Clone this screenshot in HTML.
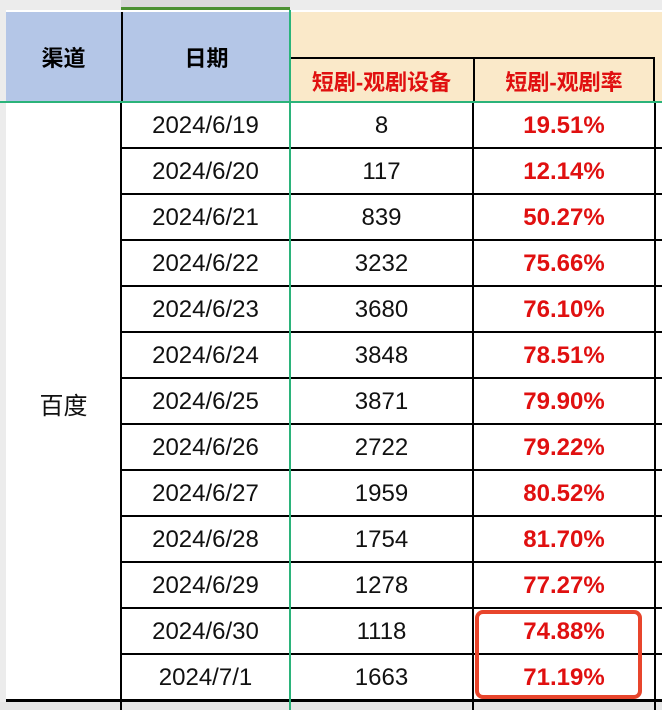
<!DOCTYPE html><html><head><meta charset="utf-8"><style>
body{margin:0;width:662px;height:710px;overflow:hidden;background:#fff;position:relative;font-family:"Liberation Sans","Noto Sans CJK SC",sans-serif}
div{position:absolute;box-sizing:border-box}
.c{display:flex;align-items:center;justify-content:center}
.t{font-size:24px;color:#111;padding-top:2px}
.r{font-size:24px;color:#e01010;font-weight:bold;padding-top:2px}
.h{font-size:22px;font-weight:bold}
</style></head><body>
<div style="left:0;top:0;width:662px;height:10px;background:#ececec"></div>
<div style="left:121px;top:0;width:169px;height:10px;background:#d9d9d9;border-bottom:3px solid #4a9030"></div>
<div style="left:0;top:0;width:6px;height:710px;background:#ececec"></div>
<div style="left:0;top:702px;width:662px;height:8px;background:#e6e6e6"></div>
<div class="c h" style="left:6px;top:12px;width:115px;height:90px;background:#b4c6e7">渠道</div>
<div class="c h" style="left:121px;top:12px;width:169px;height:90px;background:#b4c6e7;border-left:2px solid #000">日期</div>
<div style="left:290px;top:12px;width:372px;height:90px;background:#fae9c9"></div>
<div class="c h" style="left:290px;top:57px;width:183px;height:45px;color:#e01010;border-top:2px solid #000">短剧-观剧设备</div>
<div class="c h" style="left:473px;top:57px;width:182px;height:45px;color:#e01010;border-top:2px solid #000;border-left:2px solid #000;border-right:2px solid #000">短剧-观剧率</div>
<div class="c t" style="left:6px;top:102px;width:115px;height:600px">百度</div>
<div id="rows"></div>
<div style="left:120px;top:102px;width:2px;height:608px;background:#000"></div>
<div style="left:472px;top:102px;width:2px;height:608px;background:#000"></div>
<div style="left:654px;top:102px;width:2px;height:608px;background:#000"></div>
<div style="left:6px;top:699px;width:656px;height:3px;background:#000"></div>
<div style="left:289px;top:10px;width:2px;height:700px;background:#2bb37a"></div>
<div style="left:0;top:101px;width:662px;height:2px;background:#2bb37a"></div>
<div style="left:475px;top:610px;width:167px;height:89px;border:4px solid #e8452c;border-radius:8px"></div>
<script>
const dates=["2024/6/19","2024/6/20","2024/6/21","2024/6/22","2024/6/23","2024/6/24","2024/6/25","2024/6/26","2024/6/27","2024/6/28","2024/6/29","2024/6/30","2024/7/1"];
const devices=["8","117","839","3232","3680","3848","3871","2722","1959","1754","1278","1118","1663"];
const rates=["19.51%","12.14%","50.27%","75.66%","76.10%","78.51%","79.90%","79.22%","80.52%","81.70%","77.27%","74.88%","71.19%"];
const host=document.getElementById('rows');
dates.forEach((d,i)=>{
 const y=102+i*46;
 const mk=(x,w,txt,cls,name)=>{const e=document.createElement('div');e.className='c '+cls;e.style.cssText=`left:${x}px;top:${y}px;width:${w}px;height:46px`;e.textContent=txt;
 
 
 host.appendChild(e);};
 mk(121,169,d,'t','date-cell');mk(290,183,devices[i],'t','devices-cell');mk(473,182,rates[i],'r','rate-cell');
 if(i>0){const l=document.createElement('div');l.style.cssText=`left:121px;top:${y-1}px;width:541px;height:2px;background:#000`;
 
 
 host.appendChild(l);}
});
</script>
</body></html>
